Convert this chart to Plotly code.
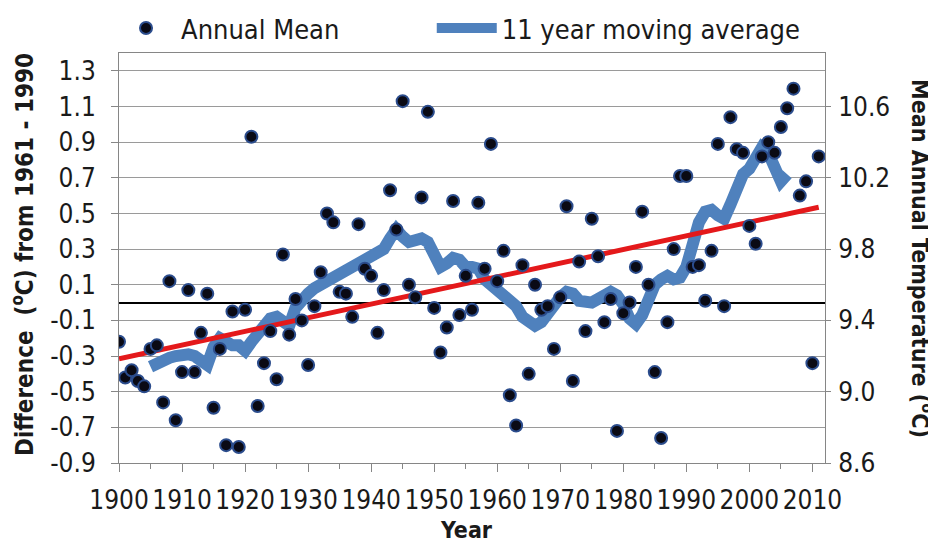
import plotly.graph_objects as go

# ---- data ----
years = list(range(1900, 2012))
annual_mean = [
    -0.22, -0.42, -0.38, -0.44, -0.47, -0.26, -0.24, -0.56, 0.12, -0.66,   # 1900-1909
    -0.39, 0.07, -0.39, -0.17, 0.05, -0.59, -0.26, -0.80, -0.05, -0.81,    # 1910-1919
    -0.04, 0.93, -0.58, -0.34, -0.16, -0.43, 0.27, -0.18, 0.02, -0.10,     # 1920-1929
    -0.35, -0.02, 0.17, 0.50, 0.45, 0.06, 0.05, -0.08, 0.44, 0.19,         # 1930-1939
    0.15, -0.17, 0.07, 0.63, 0.41, 1.13, 0.10, 0.03, 0.59, 1.07,           # 1940-1949
    -0.03, -0.28, -0.14, 0.57, -0.07, 0.15, -0.04, 0.56, 0.19, 0.89,       # 1950-1959
    0.12, 0.29, -0.52, -0.69, 0.21, -0.40, 0.10, -0.04, -0.02, -0.26,      # 1960-1969
    0.03, 0.54, -0.44, 0.23, -0.16, 0.47, 0.26, -0.11, 0.02, -0.72,        # 1970-1979
    -0.06, 0.00, 0.20, 0.51, 0.10, -0.39, -0.76, -0.11, 0.30, 0.71,        # 1980-1989
    0.71, 0.20, 0.21, 0.01, 0.29, 0.89, -0.02, 1.04, 0.86, 0.84,           # 1990-1999
    0.43, 0.33, 0.82, 0.90, 0.84, 0.985, 1.09, 1.20, 0.60, 0.68,           # 2000-2009
    -0.34, 0.82,                                                           # 2010-2011
]

ma_years = list(range(1905, 2007))
moving_avg = [
    -0.36, -0.34, -0.33, -0.31, -0.30,                                     # 1905-1909
    -0.29, -0.29, -0.30, -0.32, -0.35, -0.25, -0.20, -0.22, -0.24, -0.24,  # 1910-1919
    -0.27, -0.22, -0.17, -0.12, -0.09, -0.08, -0.10, -0.13, -0.03, 0.02,   # 1920-1929
    0.05, 0.08, 0.10, 0.12, 0.14, 0.16, 0.17, 0.19, 0.21, 0.24,           # 1930-1939
    0.26, 0.27, 0.30, 0.36, 0.41, 0.37, 0.34, 0.35, 0.36, 0.34,           # 1940-1949
    0.28, 0.20, 0.22, 0.25, 0.24, 0.20, 0.20, 0.19, 0.13, 0.10,           # 1950-1959
    0.08, 0.06, 0.03, -0.02, -0.08, -0.11, -0.13, -0.11, -0.06, -0.02,    # 1960-1969
    0.03, 0.06, 0.05, 0.01, 0.00, 0.00, 0.02, 0.04, 0.06, 0.04,           # 1970-1979
    -0.01, -0.09, -0.12, -0.07, 0.02, 0.10, 0.13, 0.15, 0.13, 0.14,       # 1980-1989
    0.20, 0.33, 0.45, 0.51, 0.52, 0.49, 0.47, 0.55, 0.65, 0.72,           # 1990-1999
    0.75, 0.82, 0.87, 0.84, 0.74, 0.68, 0.72,                             # 2000-2006
]

trend_years = [1900, 2011]
trend_vals = [-0.315, 0.535]

# 1961-1990 mean annual temperature (offset between the two y axes)
baseline_1961_1990 = 9.5

x_tick_vals = list(range(1900, 2011, 10))
left_tick_vals = [-0.9, -0.7, -0.5, -0.3, -0.1, 0.1, 0.3, 0.5, 0.7, 0.9, 1.1, 1.3]
right_tick_vals = [8.6, 9.0, 9.4, 9.8, 10.2, 10.6]

FONT = "Liberation Sans Narrow, Arial Narrow, DejaVu Sans Condensed, sans-serif"
TXT = "#1a1a1a"
AXC = "#868686"

fig = go.Figure()

fig.add_trace(go.Scatter(
    x=ma_years, y=moving_avg, mode="lines", name="11 year moving average",
    line=dict(color="#4F81BD", width=12), legend="legend2", hoverinfo="skip",
))
fig.add_trace(go.Scatter(
    x=trend_years, y=trend_vals, mode="lines", showlegend=False,
    line=dict(color="#E4191B", width=5), hoverinfo="skip",
))
fig.add_trace(go.Scatter(
    x=years, y=annual_mean, mode="markers", name="Annual Mean",
    marker=dict(size=12, color="#0a0a14", line=dict(color="#2B4C8C", width=2)),
    legend="legend",
))
# same series in absolute temperature, on the right axis (invisible, drives axis)
fig.add_trace(go.Scatter(
    x=years, y=[v + baseline_1961_1990 for v in annual_mean], yaxis="y2",
    mode="markers", marker=dict(size=1, opacity=0), showlegend=False, hoverinfo="skip",
))

legend_common = dict(
    orientation="h", y=1.0, xanchor="left", yanchor="bottom",
    font=dict(size=27, color=TXT), itemwidth=60, bgcolor="rgba(0,0,0,0)",
)

# the page body adds an 8px offset, so the figure is 928x536 inside the 936x544 window
fig.update_layout(
    width=928, height=536,
    margin=dict(l=111, r=111, t=45, b=81, autoexpand=False),
    paper_bgcolor="white", plot_bgcolor="white",
    font=dict(family=FONT, size=26, color=TXT),
    showlegend=True,
    legend=dict(x=-0.0113, **legend_common),
    legend2=dict(x=0.443, **legend_common),
    xaxis=dict(
        range=[1900, 2012], tickmode="array", tickvals=x_tick_vals,
        ticks="outside", ticklen=8, tickcolor=AXC, tickwidth=1,
        showline=True, linecolor=AXC, linewidth=1, mirror=True,
        showgrid=False, zeroline=False, automargin=False,
        ticklabelstandoff=6,
        minor=dict(dtick=5, tick0=1900, ticks="outside", ticklen=5, tickcolor=AXC, showgrid=False),
        tickfont=dict(size=26, color=TXT),
    ),
    yaxis=dict(
        range=[-0.9, 1.4], tickmode="array", tickvals=left_tick_vals,
        ticktext=[f"{v:.1f}" for v in left_tick_vals],
        ticks="outside", ticklen=7, tickcolor=AXC,
        showline=True, linecolor=AXC, linewidth=1, mirror=True,
        showgrid=True, gridcolor="#9a9a9a", gridwidth=1,
        zeroline=True, zerolinecolor="black", zerolinewidth=2,
        ticklabelstandoff=10, automargin=False,
        tickfont=dict(size=26, color=TXT),
    ),
    yaxis2=dict(
        range=[8.6, 10.9], tickmode="array", tickvals=right_tick_vals,
        ticktext=[f"{v:.1f}" for v in right_tick_vals],
        overlaying="y", side="right", anchor="x",
        ticks="outside", ticklen=5, tickcolor=AXC,
        showline=False, showgrid=False, zeroline=False,
        ticklabelstandoff=2, automargin=False,
        tickfont=dict(size=26, color=TXT),
    ),
    annotations=[
        dict(text="<b>Difference  (<sup>o</sup>C) from 1961 - 1990</b>", textangle=-90,
             x=-0.137, y=0.508, xref="paper", yref="paper", xanchor="center", yanchor="middle",
             showarrow=False, font=dict(size=24, color=TXT)),
        dict(text="<b>Mean Annual Temperature (<sup>o</sup>C)</b>", textangle=90,
             x=1.137, y=0.498, xref="paper", yref="paper", xanchor="center", yanchor="middle",
             showarrow=False, font=dict(size=23, color=TXT)),
        dict(text="<b>Year</b>", x=0.492, y=-0.163, xref="paper", yref="paper",
             xanchor="center", yanchor="middle", showarrow=False, font=dict(size=23, color=TXT)),
    ],
)

fig.write_html("out.html")
